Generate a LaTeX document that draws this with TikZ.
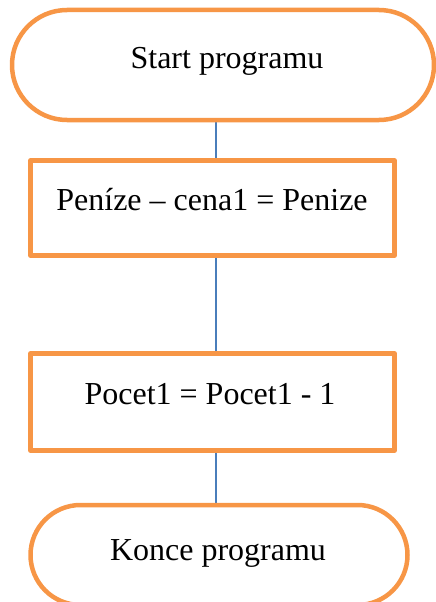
\documentclass[tikz,border=0pt]{standalone}
\usepackage{fontspec}
\setmainfont{Liberation Serif}
\usetikzlibrary{backgrounds}
\definecolor{flowor}{HTML}{F79646}
\definecolor{flowbl}{HTML}{4A7EBB}
\begin{document}
\begin{tikzpicture}[x=1pt,y=-1pt,
  shapebox/.style={draw=flowor, line width=4.5pt, fill=white, inner sep=0pt, line join=round},
  lbl/.style={font=\fontsize{32}{38}\selectfont, anchor=base, inner sep=0pt},
  conn/.style={draw=flowbl, line width=1.5pt}]
\useasboundingbox (0,0) rectangle (436,602);
\clip (0,0) rectangle (436,602);
\node[shapebox, rounded corners=55pt, minimum width=422pt, minimum height=110pt] (start) at (223,65) {};
\node[shapebox, minimum width=364pt, minimum height=95pt] (b1) at (212.5,208) {};
\node[shapebox, minimum width=364pt, minimum height=97pt] (b2) at (212.5,402) {};
\node[shapebox, rounded corners=50pt, minimum width=377pt, minimum height=100pt] (end) at (219,555) {};
\node[lbl] (t0) at (227,68) {Start programu};
\node[lbl] (t1) at (212,210) {Peníze – cena1 = Penize};
\node[lbl] (t2) at (210,404) {Pocet1 = Pocet1 - 1};
\node[lbl] (t3) at (218,560) {Konce programu};
\coordinate (cx) at (216,0);
\begin{scope}[on background layer]
\draw[conn] (start.south -| cx) -- (b1.north -| cx);
\draw[conn] (b1.south -| cx) -- (b2.north -| cx);
\draw[conn] (b2.south -| cx) -- (end.north -| cx);
\end{scope}
\end{tikzpicture}
\end{document}
